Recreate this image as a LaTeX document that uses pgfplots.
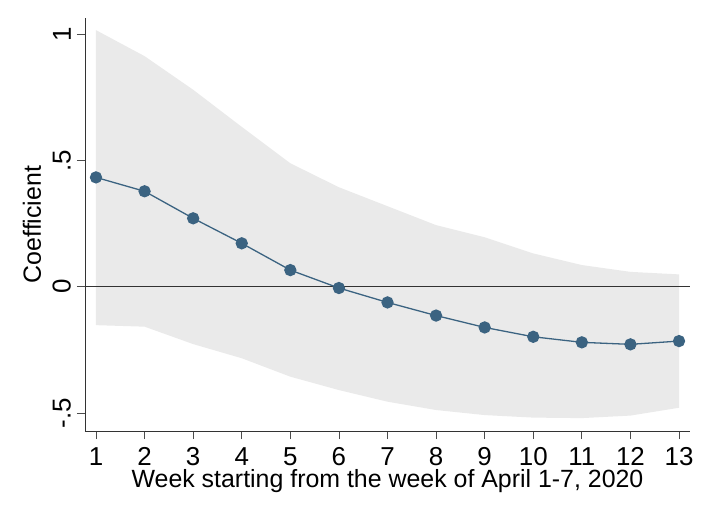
\documentclass[border=0pt]{standalone}
\usepackage{pgfplots}
\pgfplotsset{compat=1.18}
\usepackage{fontspec}
\setmainfont{Liberation Sans}
\definecolor{bandcol}{HTML}{EAEAEA}
\definecolor{navy}{HTML}{3B6381}
\begin{document}
\begin{tikzpicture}
\path[use as bounding box] (-85bp,-85bp) rectangle (624bp,431bp);
\begin{axis}[
  at={(0,0)}, anchor=south west,
  scale only axis,
  width=605bp, height=413bp,
  xmin=0.774, xmax=13.226,
  ymin=-0.571, ymax=1.064,
  axis x line*=bottom, axis y line*=left,
  axis line style={line width=0.8pt, color=black!80},
  xtick={1,...,13},
  ytick={-0.5,0,0.5,1},
  yticklabels={-.5,0,.5,1},
  tick style={line width=0.8pt, color=black!70},
  major tick length=8bp,
  tick align=outside,
  ticklabel style={font=\fontsize{26}{30}\selectfont},
  /pgf/number format/assume math mode=true,
  yticklabel style={rotate=90, anchor=south, inner sep=6bp},
  xticklabel style={inner sep=2bp, yshift=-6bp},
  xlabel={Week starting from the week of April 1-7, 2020},
  ylabel={Coefficient},
  label style={font=\fontsize{25}{29}\selectfont},
  xlabel style={at={(axis description cs:0.5,-0.138)}, anchor=base},
  ylabel style={at={(axis description cs:-0.0876,0.5)}, anchor=center},
]
\addplot[fill=bandcol, draw=none, forget plot] coordinates {
(1,1.016) (2,0.913) (3,0.780) (4,0.633) (5,0.489) (6,0.394) (7,0.319) (8,0.244) (9,0.196) (10,0.132) (11,0.086) (12,0.059) (13,0.049)
(13,-0.479) (12,-0.510) (11,-0.520) (10,-0.518) (9,-0.508) (8,-0.488) (7,-0.455) (6,-0.409) (5,-0.356) (4,-0.283) (3,-0.227) (2,-0.158) (1,-0.152)} -- cycle;
\addplot[black!80, line width=1pt, forget plot] coordinates {(0.774,0) (13.226,0)};
\addplot[navy, line width=1.3pt, mark=*, mark size=5.5bp, mark options={fill=navy, draw=navy}] coordinates {
(1,0.433) (2,0.378) (3,0.271) (4,0.172) (5,0.066) (6,-0.005) (7,-0.062) (8,-0.114) (9,-0.161) (10,-0.198) (11,-0.220) (12,-0.228) (13,-0.215)};
\end{axis}
\end{tikzpicture}
\end{document}
